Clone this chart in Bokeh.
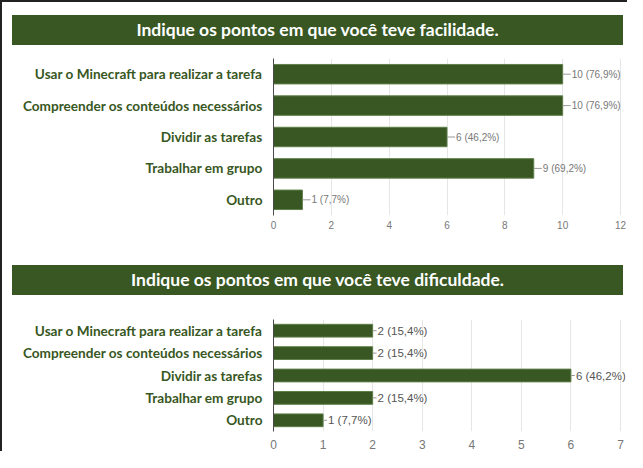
from bokeh.plotting import figure
from bokeh.models import ColumnDataSource, FactorRange, Range1d, FixedTicker, LabelSet, Div
from bokeh.layouts import column
from bokeh.embed import file_html
from bokeh.resources import INLINE
from bokeh.core.properties import value

# ---- data ----
categories = [
    "Usar o Minecraft para realizar a tarefa",
    "Compreender os conteúdos necessários",
    "Dividir as tarefas",
    "Trabalhar em grupo",
    "Outro",
]
facilidade_counts = [10, 10, 6, 9, 1]
facilidade_pct = ["76,9%", "76,9%", "46,2%", "69,2%", "7,7%"]
dificuldade_counts = [2, 2, 6, 2, 1]
dificuldade_pct = ["15,4%", "15,4%", "46,2%", "15,4%", "7,7%"]
title_facilidade = "Indique os pontos em que você teve facilidade."
title_dificuldade = "Indique os pontos em que você teve dificuldade."
ticks_facilidade = [0, 2, 4, 6, 8, 10, 12]
ticks_dificuldade = [0, 1, 2, 3, 4, 5, 6, 7]

GREEN = "#385723"
CAT_FONT = "Lato"
NUM_FONT = "Liberation Sans"
AXIS_W = 347      # pixels from 0 to the last tick
FRAME_W = 352     # a little room after the last tick for the value labels


def title_bar(text, margin):
    return Div(text=text, width=611, height=30, margin=margin,
               styles={"background-color": GREEN, "color": "white",
                       "font-family": CAT_FONT, "font-weight": "bold",
                       "font-size": "17.5px", "text-align": "center",
                       "line-height": "30px", "white-space": "nowrap",
                       "overflow": "hidden"})


def bar_chart(counts, pcts, ticks, frame_h, bar_h, top, bottom,
              lab_size, tick_size, tick_standoff, leader, lab_color):
    src = ColumnDataSource(dict(
        cat=categories,
        count=counts,
        lead=[c + leader for c in counts],
        label=[f"{c} ({p})" for c, p in zip(counts, pcts)],
    ))
    p = figure(y_range=FactorRange(factors=categories[::-1]),
               x_range=Range1d(0, ticks[-1] * FRAME_W / AXIS_W),
               frame_width=FRAME_W, frame_height=frame_h,
               min_border_left=271, min_border_right=2,
               min_border_top=top, min_border_bottom=bottom,
               toolbar_location=None, output_backend="svg")
    p.outline_line_color = None
    p.background_fill_color = "white"
    p.border_fill_color = "white"

    p.hbar(y="cat", left=0, right="count", height=bar_h, source=src,
           fill_color=GREEN, line_color="#5f7f48", line_width=1)
    p.segment(x0="count", x1="lead", y0="cat", y1="cat", source=src,
              line_color="#9a9a9a", line_width=1)
    p.add_layout(LabelSet(x="lead", y="cat", text="label", source=src, x_offset=1,
                          text_baseline="middle", text_align="left",
                          text_font=value(NUM_FONT), text_font_size=lab_size,
                          text_color=lab_color))
    p.xaxis.ticker = FixedTicker(ticks=ticks)
    p.xgrid.ticker = FixedTicker(ticks=ticks)
    p.xgrid.grid_line_color = "#e6e6e6"
    p.ygrid.grid_line_color = None
    p.xaxis.axis_line_color = None
    p.xaxis.major_tick_line_color = None
    p.xaxis.minor_tick_line_color = None
    p.xaxis.major_tick_out = 0
    p.xaxis.major_tick_in = 0
    p.xaxis.major_label_standoff = tick_standoff
    p.xaxis.major_label_text_font = NUM_FONT
    p.xaxis.major_label_text_font_size = tick_size
    p.xaxis.major_label_text_color = "#777777"
    p.yaxis.axis_line_color = "#4a4a4a"
    p.yaxis.major_tick_line_color = None
    p.yaxis.minor_tick_line_color = None
    p.yaxis.major_tick_out = 0
    p.yaxis.major_tick_in = 0
    p.yaxis.major_label_standoff = 11
    p.yaxis.major_label_text_font = CAT_FONT
    p.yaxis.major_label_text_font_style = "bold"
    p.yaxis.major_label_text_font_size = "13.6px"
    p.yaxis.major_label_text_color = GREEN
    return p


t1 = title_bar(title_facilidade, (13, 0, 0, 10))
p1 = bar_chart(facilidade_counts, facilidade_pct, ticks_facilidade,
               157, 0.62, 13, 50, "10px", "10px", 5, 0.28, "#777777")
t2 = title_bar(title_dificuldade, (0, 0, 0, 10))
p2 = bar_chart(dificuldade_counts, dificuldade_pct, ticks_dificuldade,
               112, 0.57, 24, 19, "11.5px", "12px", 8, 0.08, "#555555")

root = column(t1, p1, t2, p2, spacing=0,
              styles={"border-top": "2px solid #222222", "border-left": "2px solid #222222"})

open("out.html", "w").write(file_html(root, INLINE))
